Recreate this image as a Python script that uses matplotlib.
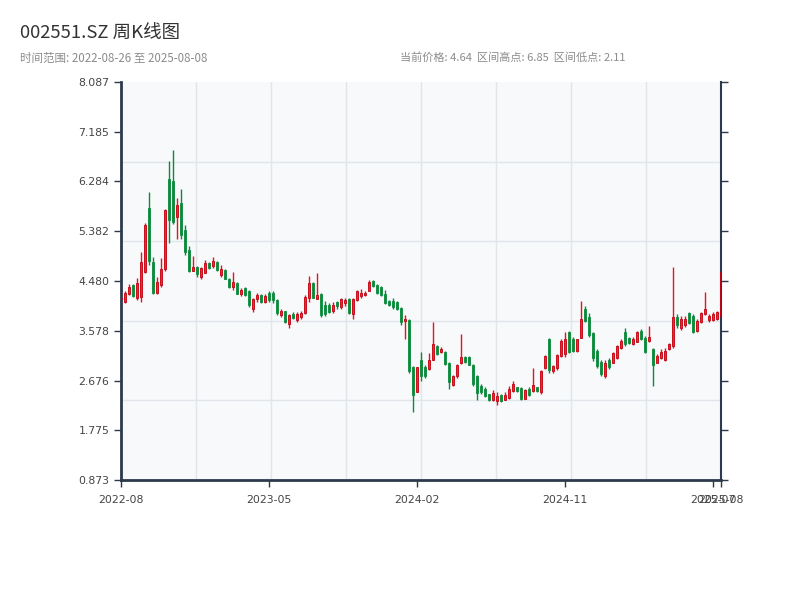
import numpy as np
import pandas as pd
import matplotlib
matplotlib.use("Agg")
import matplotlib.pyplot as plt

plt.rcParams['font.family'] = ['Noto Sans CJK SC', 'DejaVu Sans']

# ---------------- data ----------------
symbol = "002551.SZ"
start_date = "2022-08-26"
end_date = "2025-08-08"
closed_weeks = ["2022-10-07", "2023-01-27", "2023-10-06", "2024-02-16"]

opens = [4.15, 4.10, 4.25, 4.40, 4.18, 4.19, 4.65, 5.80, 4.83, 4.26,
         4.41, 4.70, 6.32, 6.30, 5.64, 5.90, 5.40, 5.05, 4.67, 4.74,
         4.55, 4.63, 4.80, 4.75, 4.83, 4.58, 4.68, 4.52, 4.38, 4.45,
         4.24, 4.36, 4.30, 3.98, 4.15, 4.22, 4.10, 4.26, 4.27, 4.13,
         3.86, 3.93, 3.70, 3.88, 3.77, 3.82, 3.90, 4.17, 4.45, 4.16,
         4.25, 4.05, 4.05, 3.93, 4.10, 4.00, 4.08, 4.16, 3.88, 4.14,
         4.20, 4.22, 4.30, 4.48, 4.40, 4.37, 4.25, 4.12, 4.12, 4.10,
         3.99, 3.75, 3.78, 2.92, 2.47, 3.05, 2.92, 2.88, 3.05, 3.30,
         3.20, 3.20, 3.00, 2.60, 2.75, 2.99, 3.11, 3.10, 2.96, 2.76,
         2.58, 2.53, 2.43, 2.33, 2.30, 2.42, 2.33, 2.36, 2.48, 2.55,
         2.54, 2.35, 2.53, 2.48, 2.55, 2.46, 2.90, 3.42, 2.84, 2.90,
         3.12, 3.15, 3.55, 3.42, 3.21, 3.45, 3.98, 3.82, 3.53, 3.22,
         3.02, 2.76, 3.05, 3.00, 3.08, 3.27, 3.55, 3.44, 3.34, 3.38,
         3.58, 3.44, 3.39, 3.25, 3.00, 3.08, 3.05, 3.24, 3.30, 3.82,
         3.62, 3.68, 3.90, 3.85, 3.57, 3.73, 3.88, 3.78, 3.78, 3.80,
         3.85]
highs = [4.19, 4.29, 4.42, 4.43, 4.53, 5.00, 5.53, 6.09, 4.92, 4.56,
         4.90, 5.78, 6.65, 6.85, 5.99, 6.15, 5.49, 5.11, 4.93, 4.76,
         4.73, 4.86, 4.82, 4.91, 4.85, 4.77, 4.70, 4.54, 4.65, 4.46,
         4.35, 4.38, 4.32, 4.18, 4.26, 4.24, 4.24, 4.29, 4.30, 4.15,
         3.97, 3.94, 3.88, 3.92, 3.91, 3.94, 4.22, 4.57, 4.47, 4.62,
         4.26, 4.12, 4.08, 4.10, 4.12, 4.18, 4.17, 4.18, 4.17, 4.32,
         4.33, 4.30, 4.50, 4.50, 4.43, 4.39, 4.31, 4.13, 4.18, 4.12,
         4.01, 3.87, 3.80, 2.94, 2.93, 3.20, 2.96, 3.17, 3.73, 3.32,
         3.29, 3.21, 3.02, 2.78, 2.98, 3.52, 3.12, 3.12, 2.98, 2.78,
         2.61, 2.55, 2.44, 2.50, 2.46, 2.43, 2.47, 2.58, 2.66, 2.56,
         2.55, 2.52, 2.55, 2.90, 2.56, 2.87, 3.14, 3.44, 2.96, 3.16,
         3.43, 3.56, 3.58, 3.47, 3.43, 4.12, 4.03, 3.90, 3.55, 3.25,
         3.05, 3.05, 3.08, 3.20, 3.32, 3.42, 3.62, 3.46, 3.47, 3.57,
         3.61, 3.48, 3.66, 3.26, 3.16, 3.24, 3.27, 3.35, 4.74, 3.88,
         3.85, 3.84, 3.92, 3.88, 3.79, 3.92, 4.28, 3.88, 3.91, 3.94,
         4.68]
lows = [4.13, 4.09, 4.23, 4.19, 4.14, 4.10, 4.63, 4.77, 4.24, 4.24,
        4.38, 4.67, 5.16, 5.52, 5.24, 5.25, 4.95, 4.65, 4.66, 4.55,
        4.52, 4.62, 4.70, 4.72, 4.67, 4.55, 4.51, 4.36, 4.32, 4.24,
        4.21, 4.20, 4.01, 3.92, 4.10, 4.08, 4.08, 4.10, 4.09, 3.87,
        3.83, 3.72, 3.63, 3.80, 3.74, 3.79, 3.89, 4.10, 4.17, 4.15,
        3.82, 3.84, 3.90, 3.90, 3.98, 3.98, 4.02, 3.89, 3.80, 4.12,
        4.18, 4.20, 4.29, 4.37, 4.25, 4.20, 4.07, 4.02, 3.97, 3.95,
        3.69, 3.42, 2.82, 2.11, 2.46, 2.67, 2.73, 2.86, 3.04, 3.13,
        3.17, 2.96, 2.52, 2.58, 2.73, 2.98, 2.99, 2.95, 2.58, 2.33,
        2.43, 2.38, 2.31, 2.31, 2.23, 2.29, 2.32, 2.34, 2.47, 2.47,
        2.32, 2.34, 2.40, 2.47, 2.47, 2.44, 2.88, 2.82, 2.82, 2.87,
        3.10, 3.11, 3.17, 3.19, 3.19, 3.44, 3.73, 3.47, 3.03, 2.90,
        2.76, 2.72, 2.88, 2.99, 3.06, 3.25, 3.30, 3.33, 3.32, 3.37,
        3.41, 3.18, 3.37, 2.58, 2.99, 3.06, 3.03, 3.23, 3.27, 3.63,
        3.60, 3.65, 3.70, 3.54, 3.55, 3.71, 3.86, 3.74, 3.76, 3.77,
        3.80]
closes = [4.17, 4.27, 4.38, 4.21, 4.45, 4.83, 5.50, 4.84, 4.26, 4.47,
          4.69, 5.77, 5.59, 5.55, 5.86, 5.31, 5.00, 4.67, 4.73, 4.60,
          4.72, 4.80, 4.72, 4.85, 4.68, 4.70, 4.52, 4.38, 4.47, 4.25,
          4.31, 4.22, 4.04, 4.15, 4.22, 4.10, 4.20, 4.13, 4.14, 3.90,
          3.93, 3.73, 3.86, 3.81, 3.88, 3.90, 4.19, 4.45, 4.18, 4.22,
          3.86, 3.88, 3.92, 4.05, 4.02, 4.15, 4.14, 3.90, 4.16, 4.30,
          4.26, 4.26, 4.47, 4.39, 4.27, 4.23, 4.08, 4.05, 4.00, 3.97,
          3.74, 3.80, 2.85, 2.42, 2.92, 2.75, 2.76, 3.05, 3.34, 3.16,
          3.25, 2.97, 2.65, 2.76, 2.95, 3.10, 3.01, 2.96, 2.62, 2.45,
          2.47, 2.40, 2.33, 2.45, 2.40, 2.30, 2.42, 2.52, 2.62, 2.48,
          2.34, 2.50, 2.42, 2.59, 2.48, 2.85, 3.12, 2.86, 2.94, 3.14,
          3.40, 3.42, 3.20, 3.22, 3.42, 3.80, 3.75, 3.50, 3.08, 2.94,
          2.80, 3.00, 2.92, 3.18, 3.30, 3.40, 3.33, 3.35, 3.42, 3.55,
          3.43, 3.20, 3.47, 2.95, 3.12, 3.20, 3.22, 3.33, 3.83, 3.68,
          3.80, 3.80, 3.72, 3.56, 3.76, 3.90, 3.97, 3.84, 3.88, 3.91,
          4.64]

y_tick_labels = ['0.873', '1.775', '2.676', '3.578', '4.480',
                 '5.382', '6.284', '7.185', '8.087']
label_every = 37

# ---------------- derived ----------------
all_fridays = pd.date_range(start_date, end_date, freq='W-FRI')
dates = all_fridays[~all_fridays.isin(pd.to_datetime(closed_weeks))]
o = np.array(opens); h = np.array(highs); l = np.array(lows); c = np.array(closes)
n = len(c)
x = np.arange(n)
up = c >= o

RED = '#e8121c'
RED_EDGE = '#c10010'
GREEN = '#0a8a3a'

fig = plt.figure(figsize=(8, 6), dpi=100)
fig.patch.set_facecolor('white')
ax = fig.add_axes([121 / 800, 1 - 480 / 600, 600 / 800, 398 / 600])
ax.set_facecolor('#f7f9fb')

ymin, ymax = float(y_tick_labels[0]), float(y_tick_labels[-1])
ax.set_xlim(0, n - 1)
ax.set_ylim(ymin, ymax)

# grid
for gx in np.linspace(0, n - 1, 9)[1:-1]:
    ax.axvline(gx, color='#e2e5ea', lw=1, zorder=0)
for gy in np.linspace(ymin, ymax, 6)[1:-1]:
    ax.axhline(gy, color='#e2e5ea', lw=1, zorder=0)

# candles
wick_colors = np.where(up, RED, GREEN)
ax.vlines(x, l, h, colors=wick_colors, lw=1.0, zorder=2)
body_bottom = np.minimum(o, c)
body_height = np.maximum(np.abs(c - o), 0.012)
ax.bar(x[up], body_height[up], bottom=body_bottom[up], width=0.7,
       color='#f2262c', edgecolor=RED_EDGE, linewidth=0.6, zorder=3)
ax.bar(x[~up], body_height[~up], bottom=body_bottom[~up], width=0.7,
       color=GREEN, edgecolor=GREEN, linewidth=0.6, zorder=3)

# axes styling
ax.set_yticks([float(t) for t in y_tick_labels])
ax.set_yticklabels(y_tick_labels, family='DejaVu Sans')
tick_idx = list(range(0, n, label_every))
if tick_idx[-1] != n - 1:
    tick_idx.append(n - 1)
ax.set_xticks(tick_idx)
ax.set_xticklabels([dates[i].strftime('%Y-%m') for i in tick_idx],
                   family='DejaVu Sans')

spine_col = '#2c3a4c'
for side in ['left', 'bottom']:
    ax.spines[side].set_color(spine_col)
    ax.spines[side].set_linewidth(2)
ax.spines['right'].set_color(spine_col)
ax.spines['right'].set_linewidth(1.5)
ax.spines['top'].set_visible(False)
ax.tick_params(axis='both', length=5, width=1, color=spine_col,
               labelsize=7.8, labelcolor='#444444')
ax.tick_params(axis='y', right=True, labelright=False)
ax.tick_params(axis='x', pad=6)

# header texts
fig.text(20 / 800, 1 - 34 / 600, f"{symbol} 周K线图", fontsize=13.3,
         color='#333333', va='center', ha='left')
fig.text(20 / 800, 1 - 58 / 600,
         f"时间范围: {dates[0].strftime('%Y-%m-%d')} 至 {dates[-1].strftime('%Y-%m-%d')}",
         fontsize=8.3, color='#8c8c8c', va='center', ha='left')
fig.text(400 / 800, 1 - 58 / 600,
         f"当前价格: {c[-1]:.2f}  区间高点: {h.max():.2f}  区间低点: {l.min():.2f}",
         fontsize=8, color='#8c8c8c', va='center', ha='left')

fig.savefig('out.png', dpi=100, facecolor='white')
